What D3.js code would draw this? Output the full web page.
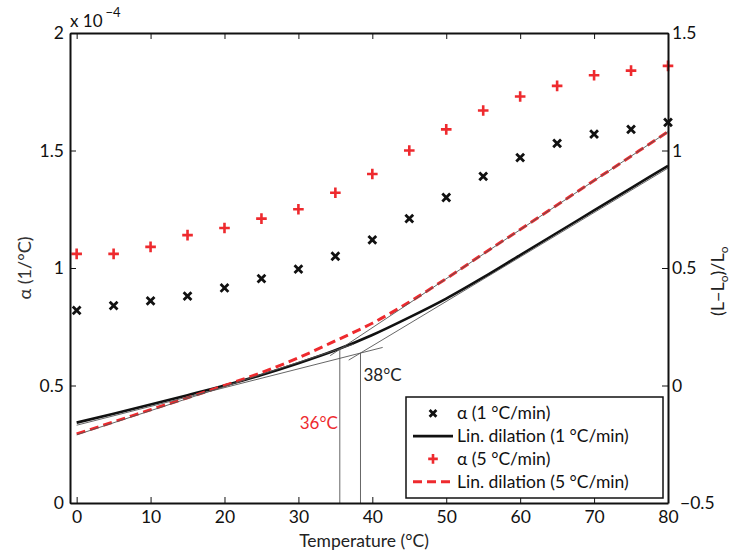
<!DOCTYPE html>
<html>
<head>
<meta charset="utf-8">
<script src="https://cdn.jsdelivr.net/npm/d3@7"></script>
<style>
  body { margin: 0; background: #fff; }
  svg { display: block; font-family: Lato, "Open Sans", sans-serif; }
</style>
</head>
<body>
<script>
// ---- data ----
const temps = [0, 5, 10, 15, 20, 25, 30, 35, 40, 45, 50, 55, 60, 65, 70, 75, 80];
// alpha (x 1e-4 1/°C), left axis
const alpha1 = [0.82, 0.84, 0.86, 0.88, 0.915, 0.955, 0.995, 1.05, 1.12, 1.21, 1.30, 1.39, 1.47, 1.53, 1.57, 1.59, 1.62];
const alpha5 = [1.06, 1.06, 1.09, 1.14, 1.17, 1.21, 1.25, 1.32, 1.40, 1.50, 1.59, 1.67, 1.73, 1.775, 1.82, 1.84, 1.86];
// linear dilation (L-Lo)/Lo, right axis
const dil1 = [-0.158, -0.12, -0.081, -0.041, 0.0, 0.045, 0.095, 0.15, 0.215, 0.29, 0.37, 0.46, 0.555, 0.65, 0.745, 0.84, 0.935];
const dil5 = [-0.206, -0.155, -0.103, -0.052, 0.0, 0.055, 0.118, 0.19, 0.265, 0.355, 0.455, 0.56, 0.664, 0.768, 0.872, 0.976, 1.08];
// tangent lines [temperature, value]
const tanBlackLow = [[0, -0.169], [41.4, 0.162]];
const tanBlackHigh = [[36.8, 0.108], [80, 0.925]];
const tanRedLow = [[0, -0.21], [37.5, 0.176]];
const tanRedHigh = [[34.3, 0.127], [80, 1.08]];
// transition temperatures
const transT = [35.6, 38.4];
const transV = [0.157, 0.138];
const transLabels = ["36°C", "38°C"];
// ticks
const xTicks = [0, 10, 20, 30, 40, 50, 60, 70, 80];
const yLeftTicks = [0, 0.5, 1, 1.5, 2];
const yLeftLabels = ["0", "0.5", "1", "1.5", "2"];
const yRightTicks = [-0.5, 0, 0.5, 1, 1.5];
const yRightLabels = ["\u22120.5", "0", "0.5", "1", "1.5"];
const legendLabels = ["\u03b1 (1 °C/min)", "Lin. dilation (1 °C/min)", "\u03b1 (5 °C/min)", "Lin. dilation (5 °C/min)"];

// ---- layout ----
const W = 736, H = 551;
const L = 70, R = 668, T = 33, B = 503;
const RED = "#ee2a2e";

const svg = d3.select("body").append("svg").attr("width", W).attr("height", H);

const x = d3.scaleLinear().domain([-0.9, 80]).range([L, R]);
const yL = d3.scaleLinear().domain([0, 2]).range([B, T]);
const yR = d3.scaleLinear().domain([-0.5, 1.5]).range([B, T]);

// ---- curves ----
const lineR = d3.line().x(d => x(d[0])).y(d => yR(d[1])).curve(d3.curveMonotoneX);
const straight = d3.line().x(d => x(d[0])).y(d => yR(d[1]));

svg.append("path").datum(temps.map((t, i) => [t, dil1[i]]))
  .attr("d", lineR).attr("fill", "none").attr("stroke", "#111").attr("stroke-width", 2.6);
svg.append("path").datum(temps.map((t, i) => [t, dil5[i]]))
  .attr("d", lineR).attr("fill", "none").attr("stroke", RED).attr("stroke-width", 3)
  .attr("stroke-dasharray", "9,5");

// tangent lines
[tanBlackLow, tanBlackHigh, tanRedLow, tanRedHigh].forEach(seg => {
  svg.append("path").datum(seg).attr("d", straight)
    .attr("fill", "none").attr("stroke", "#555").attr("stroke-width", 0.9);
});
// vertical lines
transT.forEach((t, i) => {
  svg.append("line").attr("x1", x(t)).attr("x2", x(t))
    .attr("y1", yR(-0.5)).attr("y2", yR(transV[i]))
    .attr("stroke", "#555").attr("stroke-width", 0.9);
});
svg.append("text").attr("x", x(transT[0]) - 2).attr("y", yR(-0.185))
  .attr("text-anchor", "end").attr("fill", RED).attr("font-size", 17).text(transLabels[0]);
svg.append("text").attr("x", x(transT[1]) + 3).attr("y", yR(0.02))
  .attr("text-anchor", "start").attr("fill", "#222").attr("font-size", 17).text(transLabels[1]);

// ---- markers ----
function xMark(g, cx, cy, s) {
  g.append("path").attr("d", `M${cx - s},${cy - s}L${cx + s},${cy + s}M${cx - s},${cy + s}L${cx + s},${cy - s}`)
    .attr("stroke", "#111").attr("stroke-width", 2.8).attr("fill", "none");
}
function plusMark(g, cx, cy, s) {
  g.append("path").attr("d", `M${cx - s},${cy}L${cx + s},${cy}M${cx},${cy - s}L${cx},${cy + s}`)
    .attr("stroke", RED).attr("stroke-width", 2.6).attr("fill", "none");
}
const marks = svg.append("g");
temps.forEach((t, i) => xMark(marks, x(t), yL(alpha1[i]), 3.9));
temps.forEach((t, i) => plusMark(marks, x(t), yL(alpha5[i]), 5.3));

// ---- axes ----
const axStyle = g => {
  g.attr("font-family", null);
  g.select(".domain").attr("stroke", "#111").attr("stroke-width", 2);
  g.selectAll(".tick line").attr("stroke", "#111").attr("stroke-width", 1);
  g.selectAll(".tick text").attr("fill", "#111").attr("font-size", 17.5);
};
svg.append("g").attr("transform", `translate(0,${B})`)
  .call(d3.axisBottom(x).tickValues(xTicks).tickFormat(d3.format("d")).tickSizeInner(-6).tickSizeOuter(0).tickPadding(8))
  .call(axStyle);
svg.append("g").attr("transform", `translate(0,${T})`)
  .call(d3.axisTop(x).tickValues(xTicks).tickFormat("").tickSizeInner(-6).tickSizeOuter(0))
  .call(axStyle);
svg.append("g").attr("transform", `translate(${L},0)`)
  .call(d3.axisLeft(yL).tickValues(yLeftTicks).tickFormat((d, i) => yLeftLabels[i]).tickSizeInner(-6).tickSizeOuter(0).tickPadding(6))
  .call(axStyle);
svg.append("g").attr("transform", `translate(${R},0)`)
  .call(d3.axisRight(yR).tickValues(yRightTicks).tickFormat((d, i) => yRightLabels[i]).tickSizeInner(-6).tickSizeOuter(0).tickPadding(4))
  .call(axStyle)
  .call(g => g.selectAll(".tick text").filter(d => d === -0.5).attr("dx", 8));

// exponent
const ex = svg.append("text").attr("x", L).attr("y", 27).attr("font-size", 17).attr("fill", "#111");
ex.append("tspan").text("x 10");
ex.append("tspan").attr("dx", 3).attr("dy", -10).attr("font-size", 13).text("\u22124");

// axis titles
svg.append("text").attr("x", 364).attr("y", 547).attr("text-anchor", "middle")
  .attr("font-size", 17.5).attr("fill", "#222").text("Temperature (°C)");
svg.append("text").attr("transform", `translate(31,${yL(1)}) rotate(-90)`).attr("text-anchor", "middle")
  .attr("font-size", 18).attr("fill", "#333").text("\u03b1 (1/°C)");
const rl = svg.append("text").attr("transform", `translate(724,316) rotate(-90)`)
  .attr("font-size", 18).attr("fill", "#222");
rl.append("tspan").text("(L\u2212L");
rl.append("tspan").attr("dy", 4).attr("font-size", 12).text("o");
rl.append("tspan").attr("dy", -4).text(")/L");
rl.append("tspan").attr("dy", 4).attr("font-size", 12).text("o");

// ---- legend ----
const lg = svg.append("g");
lg.append("rect").attr("x", 406).attr("y", 397).attr("width", 257).attr("height", 101)
  .attr("fill", "#fff").attr("stroke", "#111").attr("stroke-width", 1.5);
const rowY = i => 413.3 + i * 22.8;
xMark(lg, 433, rowY(0), 3.4);
lg.append("line").attr("x1", 413).attr("x2", 453).attr("y1", rowY(1)).attr("y2", rowY(1))
  .attr("stroke", "#111").attr("stroke-width", 2.6);
plusMark(lg, 433, rowY(2), 4.8);
lg.append("line").attr("x1", 413).attr("x2", 453).attr("y1", rowY(3)).attr("y2", rowY(3))
  .attr("stroke", RED).attr("stroke-width", 3).attr("stroke-dasharray", "9,5");
legendLabels.forEach((s, i) => {
  lg.append("text").attr("x", 457).attr("y", rowY(i)).attr("dy", "0.35em")
    .attr("font-size", 17.5).attr("fill", "#111").text(s);
});
</script>
</body>
</html>
